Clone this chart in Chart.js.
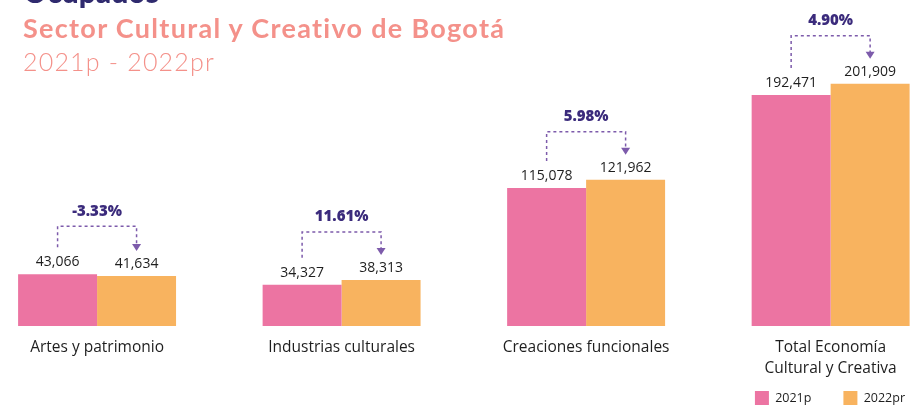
<!DOCTYPE html>
<html>
<head>
<meta charset="utf-8">
<script src="https://cdn.jsdelivr.net/npm/chart.js@4.4.0/dist/chart.umd.min.js"></script>
<style>
  html, body { margin: 0; padding: 0; background: #fff; overflow: hidden; width: 912px; height: 408px; }
  #wrap { position: relative; width: 937px; height: 415px; }
  .t { position: absolute; left: 23px; font-family: Lato, sans-serif; white-space: nowrap; z-index: 2; }
  #t0 { top: -27px; font-size: 30px; font-weight: 900; color: #2f2a6e; }
  #t1 { top: 11px; font-size: 27px; font-weight: 700; letter-spacing: 1.3px; color: #f4918a; }
  #t2 { top: 46px; font-size: 25px; font-weight: 300; letter-spacing: 1.2px; color: #f4918a; }
</style>
</head>
<body>
<div id="wrap">
  <div class="t" id="t0">Ocupados</div>
  <div class="t" id="t1">Sector Cultural y Creativo de Bogotá</div>
  <div class="t" id="t2">2021p - 2022pr</div>
  <canvas id="chart"></canvas>
</div>
<script>
// categorias y valores (ocupados)
var categories = [
    ["Artes y patrimonio"],
    ["Industrias culturales"],
    ["Creaciones funcionales"],
    ["Total Economía", "Cultural y Creativa"]
];
var values2021 = [43066, 34327, 115078, 192471];
var values2022 = [41634, 38313, 121962, 201909];
var changes = ["-3.33%", "11.61%", "5.98%", "4.90%"];
var seriesNames = ["2021p", "2022pr"];

var pink = "#ec74a2";
var orange = "#f8b35f";
var textColor = "#1e1e1e";

function toPoints(arr) {
    return arr.map((v, i) => ({ x: i, y: v }));
}

// numbers over each bar
const valueLabels = {
    id: "valueLabels",
    afterDatasetsDraw(chart) {
        const ctx = chart.ctx;
        ctx.save();
        ctx.font = "14px 'Open Sans'";
        ctx.fillStyle = textColor;
        ctx.textAlign = "center";
        ctx.textBaseline = "middle";
        chart.data.datasets.forEach((ds, d) => {
            chart.getDatasetMeta(d).data.forEach((bar, i) => {
                ctx.fillText(ds.data[i].y.toLocaleString("en-US"), bar.x, bar.y - 12);
            });
        });
        ctx.restore();
    }
};

// category names under the bars (axis ticks get clipped to the axis box)
const categoryLabels = {
    id: "categoryLabels",
    afterDraw(chart) {
        const ctx = chart.ctx;
        const xs = chart.scales.x;
        ctx.save();
        ctx.font = "15.5px 'Open Sans'";
        ctx.fillStyle = textColor;
        ctx.textAlign = "center";
        ctx.textBaseline = "middle";
        categories.forEach((lines, i) => {
            lines.forEach((line, j) => {
                ctx.fillText(line, xs.getPixelForValue(i), chart.chartArea.bottom + 22 + j * 21);
            });
        });
        ctx.restore();
    }
};

// dashed bracket with the % change
const changeBrackets = {
    id: "changeBrackets",
    afterDatasetsDraw(chart) {
        const ctx = chart.ctx;
        const a = chart.getDatasetMeta(0).data;
        const b = chart.getDatasetMeta(1).data;
        ctx.save();
        for (let i = 0; i < a.length; i++) {
            const top = Math.min(a[i].y, b[i].y) - 48;
            const leftBottom = a[i].y - 27;
            const tip = b[i].y - 25;
            ctx.strokeStyle = "#7d5bab";
            ctx.lineWidth = 1.5;
            ctx.setLineDash([3, 3]);
            ctx.beginPath();
            ctx.moveTo(a[i].x, leftBottom);
            ctx.lineTo(a[i].x, top);
            ctx.lineTo(b[i].x, top);
            ctx.lineTo(b[i].x, tip - 5);
            ctx.stroke();
            ctx.setLineDash([]);
            ctx.fillStyle = "#7d5bab";
            ctx.beginPath();
            ctx.moveTo(b[i].x - 4.5, tip - 7);
            ctx.lineTo(b[i].x + 4.5, tip - 7);
            ctx.lineTo(b[i].x, tip);
            ctx.closePath();
            ctx.fill();

            ctx.font = "800 15px 'Open Sans'";
            ctx.fillStyle = "#3b2b7c";
            ctx.textAlign = "center";
            ctx.textBaseline = "middle";
            ctx.fillText(changes[i], (a[i].x + b[i].x) / 2, top - 15);
        }
        ctx.restore();
    }
};

new Chart(document.getElementById("chart"), {
    type: "bar",
    data: {
        datasets: [{
            label: seriesNames[0],
            data: toPoints(values2021),
            backgroundColor: pink
        }, {
            label: seriesNames[1],
            data: toPoints(values2022),
            backgroundColor: orange
        }]
    },
    options: {
        responsive: true,
        maintainAspectRatio: false,
        animation: false,
        categoryPercentage: 0.646,
        barPercentage: 1,
        layout: { padding: 0 },
        plugins: {
            legend: {
                position: "bottom",
                align: "end",
                labels: {
                    boxWidth: 14,
                    boxHeight: 14,
                    padding: 32,
                    color: textColor,
                    font: { family: "Open Sans", size: 12.5 }
                }
            },
            tooltip: { enabled: false }
        },
        scales: {
            x: {
                type: "linear",
                offset: false,
                min: -0.397,
                max: 3.435,
                grid: { display: false },
                border: { display: false },
                ticks: { display: false },
                afterBuildTicks: (scale) => {
                    scale.ticks = [0, 1, 2, 3].map(v => ({ value: v }));
                },
                afterFit: (scale) => { scale.height = 33; }
            },
            y: {
                display: false,
                min: 0,
                max: 271667
            }
        }
    },
    plugins: [valueLabels, categoryLabels, changeBrackets]
});
</script>
</body>
</html>
